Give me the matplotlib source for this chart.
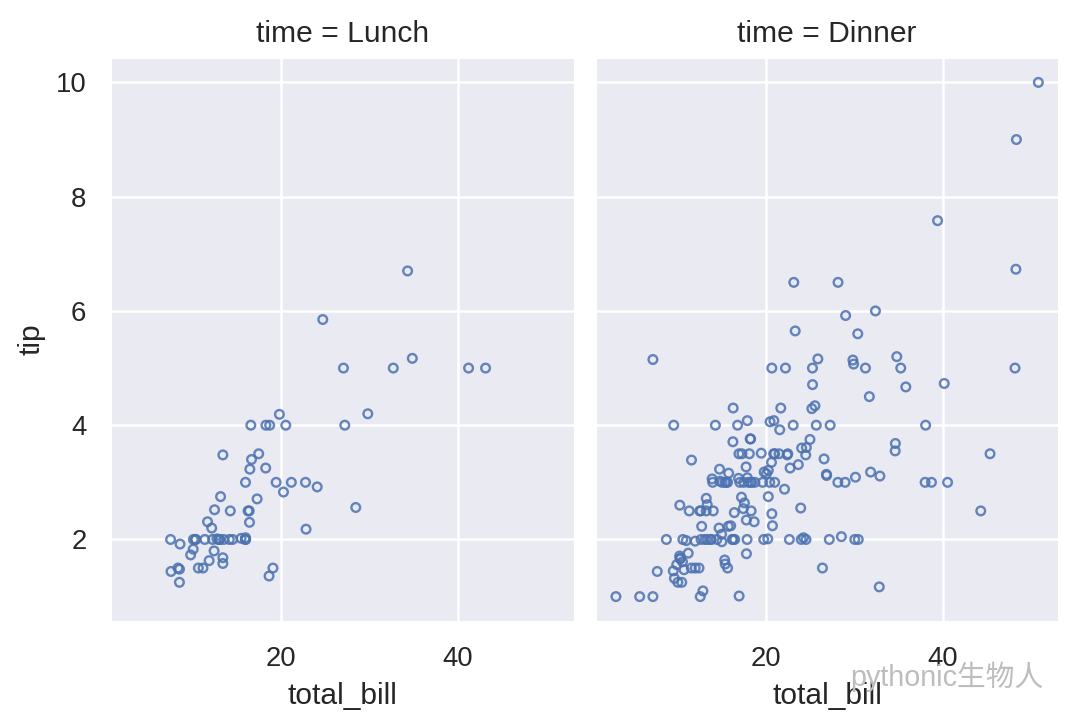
import matplotlib
matplotlib.use("Agg")
import matplotlib.pyplot as plt
import seaborn as sns

# tips data, split by time
lunch_bill = [27.20, 22.76, 17.29, 19.44, 16.66, 10.07, 32.68, 15.98, 34.83, 13.03,
              18.28, 24.71, 21.16, 10.65, 12.43, 24.08, 11.69, 13.42, 14.26, 15.95,
              12.48, 29.80, 8.52, 14.52, 11.38, 22.82, 19.08, 20.27, 11.17, 12.26,
              18.26, 8.51, 10.33, 14.15, 16.00, 13.16, 17.47, 34.30, 41.19, 27.05,
              16.43, 8.35, 18.64, 11.87, 9.78, 7.51, 19.81, 28.44, 15.48, 16.58,
              7.56, 10.34, 43.11, 13.00, 13.51, 18.71, 12.74, 13.00, 16.40, 20.53,
              16.47, 12.16, 13.42, 8.58, 15.98, 13.42, 16.27, 10.09]
lunch_tip = [4.00, 3.00, 2.71, 3.00, 3.40, 1.83, 5.00, 2.03, 5.17, 2.00,
             4.00, 5.85, 3.00, 1.50, 1.80, 2.92, 2.31, 1.68, 2.50, 2.00,
             2.52, 4.20, 1.48, 2.00, 2.00, 2.18, 1.50, 2.83, 1.50, 2.00,
             3.25, 1.25, 2.00, 2.00, 2.00, 2.75, 3.50, 6.70, 5.00, 5.00,
             2.30, 1.50, 1.36, 1.63, 1.73, 2.00, 4.19, 2.56, 2.02, 4.00,
             1.44, 2.00, 5.00, 2.00, 2.00, 4.00, 2.01, 2.00, 2.50, 4.00,
             3.23, 2.20, 3.48, 1.92, 3.00, 1.58, 2.50, 2.00]

dinner_bill = [16.99, 10.34, 21.01, 23.68, 24.59, 25.29, 8.77, 26.88, 15.04, 14.78,
               10.27, 35.26, 15.42, 18.43, 14.83, 21.58, 10.33, 16.29, 16.97, 20.65,
               17.92, 20.29, 15.77, 39.42, 19.82, 17.81, 13.37, 12.69, 21.70, 19.65,
               9.55, 18.35, 15.06, 20.69, 17.78, 24.06, 16.31, 16.93, 18.69, 31.27,
               16.04, 17.46, 13.94, 9.68, 30.40, 18.29, 22.23, 32.40, 28.55, 18.04,
               12.54, 10.29, 34.81, 9.94, 25.56, 19.49, 38.01, 26.41, 11.24, 48.27,
               20.29, 13.81, 11.02, 18.29, 17.59, 20.08, 16.45, 3.07, 20.23, 15.01,
               12.02, 17.07, 26.86, 25.28, 14.73, 10.51, 17.92, 28.97, 22.49, 5.75,
               16.32, 22.75, 40.17, 27.28, 12.03, 21.01, 12.46, 11.35, 15.38, 44.30,
               22.42, 20.92, 15.36, 20.49, 25.21, 18.24, 14.31, 14.00, 7.25, 38.07,
               23.95, 25.71, 17.31, 29.93, 14.07, 13.13, 17.26, 24.55, 19.77, 29.85,
               48.17, 25.00, 13.39, 16.49, 21.50, 12.66, 16.21, 13.81, 17.51, 24.52,
               20.76, 31.71, 10.59, 10.63, 50.81, 15.81, 7.25, 31.85, 16.82, 32.90,
               17.89, 14.48, 9.60, 34.63, 34.65, 23.33, 45.35, 23.17, 40.55, 20.69,
               20.90, 30.46, 18.15, 23.10, 15.69, 26.59, 38.73, 24.27, 12.76, 30.06,
               25.89, 48.33, 13.27, 28.17, 12.90, 28.15, 11.59, 7.74, 30.14, 20.45,
               13.28, 22.12, 24.01, 15.69, 11.61, 10.77, 15.53, 10.07, 12.60, 32.83,
               35.83, 29.03, 27.18, 22.67, 17.82, 18.78]
dinner_tip = [1.01, 1.66, 3.50, 3.31, 3.61, 4.71, 2.00, 3.12, 1.96, 3.23,
              1.71, 5.00, 1.57, 3.00, 3.02, 3.92, 1.67, 3.71, 3.50, 3.35,
              4.08, 2.75, 2.23, 7.58, 3.18, 2.34, 2.00, 2.00, 4.30, 3.00,
              1.45, 2.50, 3.00, 2.45, 3.27, 3.60, 2.00, 3.07, 2.31, 5.00,
              2.24, 2.54, 3.06, 1.32, 5.60, 3.00, 5.00, 6.00, 2.05, 3.00,
              2.50, 2.60, 5.20, 1.56, 4.34, 3.51, 3.00, 1.50, 1.76, 6.73,
              3.21, 2.00, 1.98, 3.76, 2.64, 3.15, 2.47, 1.00, 2.01, 2.09,
              1.97, 3.00, 3.14, 5.00, 2.20, 1.25, 3.08, 3.00, 3.50, 1.00,
              4.30, 3.25, 4.73, 4.00, 1.50, 3.00, 1.50, 2.50, 3.00, 2.50,
              3.48, 4.08, 1.64, 4.06, 4.29, 3.76, 4.00, 3.00, 1.00, 4.00,
              2.55, 4.00, 3.50, 5.07, 2.50, 2.00, 2.74, 2.00, 2.00, 5.14,
              5.00, 3.75, 2.61, 2.00, 3.50, 2.50, 2.00, 2.00, 3.00, 3.48,
              2.24, 4.50, 1.61, 2.00, 10.00, 3.16, 5.15, 3.18, 4.00, 3.11,
              2.00, 2.00, 4.00, 3.55, 3.68, 5.65, 3.50, 6.50, 3.00, 5.00,
              3.50, 2.00, 3.50, 4.00, 1.50, 3.41, 3.00, 2.03, 2.23, 2.00,
              5.16, 9.00, 2.50, 6.50, 1.10, 3.00, 1.50, 1.44, 3.09, 3.00,
              2.72, 2.88, 2.00, 3.00, 3.39, 1.47, 3.00, 1.25, 1.00, 1.17,
              4.67, 5.92, 2.00, 2.00, 1.75, 3.00]

panels = [("Lunch", lunch_bill, lunch_tip), ("Dinner", dinner_bill, dinner_tip)]

sns.set_theme(style="darkgrid")
plt.rcParams['font.family'] = ['Liberation Sans', 'Noto Sans CJK SC', 'DejaVu Sans']

fig, axes = plt.subplots(1, 2, figsize=(6, 4.039), dpi=180, sharex=True, sharey=True)
fig.subplots_adjust(left=0.102, right=0.981, bottom=0.144, top=0.922, wspace=0.043)

for ax, (name, bill, tip) in zip(axes, panels):
    ax.scatter(bill, tip, s=12, facecolors="none", edgecolors="#4c72b0",
               linewidths=0.95, alpha=0.85)
    ax.set_title(f"time = {name}", fontsize=12)
    ax.set_xlabel("total_bill", fontsize=12)
    ax.set_xticks([20, 40])
    ax.set_yticks([2, 4, 6, 8, 10])
    ax.tick_params(labelsize=11)

axes[0].set_ylabel("tip", fontsize=12)

# watermark, sits over the right x tick like in the source image
fig.text(0.966, 0.069, "pythonic生物人", ha="right", va="center",
         fontsize=11.5, color="#bdbdbd", zorder=5)

fig.savefig("out.png")
